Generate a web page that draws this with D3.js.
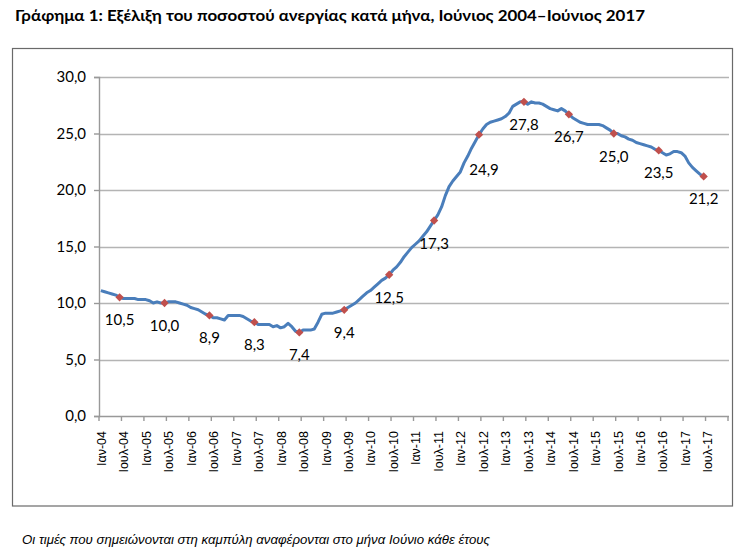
<!DOCTYPE html>
<html><head><meta charset="utf-8">
<script src="https://cdn.jsdelivr.net/npm/d3@7"></script>
<style>body{margin:0;background:#fff}svg{display:block}</style>
</head><body><svg id="c" width="751" height="549"></svg>
<script>
// ---- DATA ----
const title = "Γράφημα 1: Εξέλιξη του ποσοστού ανεργίας κατά μήνα, Ιούνιος 2004–Ιούνιος 2017";
const footnote = "Οι τιμές που σημειώνονται στη καμπύλη αναφέρονται στο μήνα Ιούνιο κάθε έτους";
const startYear = 2004;
const categoryCount = 168; // Jan 2004 .. Dec 2017 (monthly categories)
const xTickLabels = ["Ιαν-04","Ιουλ-04","Ιαν-05","Ιουλ-05","Ιαν-06","Ιουλ-06","Ιαν-07","Ιουλ-07",
  "Ιαν-08","Ιουλ-08","Ιαν-09","Ιουλ-09","Ιαν-10","Ιουλ-10","Ιαν-11","Ιουλ-11","Ιαν-12","Ιουλ-12",
  "Ιαν-13","Ιουλ-13","Ιαν-14","Ιουλ-14","Ιαν-15","Ιουλ-15","Ιαν-16","Ιουλ-16","Ιαν-17","Ιουλ-17"];
const yTicks = [0, 5, 10, 15, 20, 25, 30];
// monthly unemployment rate (%), Jan 2004 .. Jun 2017
const rate2004 = [11.1,11.0,10.9,10.8,10.7,10.5,10.4,10.4,10.4,10.4,10.3,10.3];
const rate2005 = [10.3,10.2,10.0,10.1,10.0,10.0,10.1,10.1,10.1,10.0,9.9,9.8];
const rate2006 = [9.6,9.5,9.4,9.2,9.0,8.9,8.7,8.7,8.6,8.5,8.9,8.9];
const rate2007 = [8.9,8.9,8.8,8.6,8.4,8.3,8.1,8.1,8.1,8.1,7.9,8.0];
const rate2008 = [7.8,7.9,8.2,7.9,7.5,7.4,7.6,7.6,7.6,7.7,8.3,9.0];
const rate2009 = [9.1,9.1,9.1,9.2,9.3,9.4,9.6,9.8,10.0,10.3,10.6,10.9];
const rate2010 = [11.1,11.4,11.7,12.0,12.2,12.5,12.9,13.2,13.6,14.1,14.5,14.9];
const rate2011 = [15.2,15.5,15.9,16.3,16.8,17.3,17.8,18.5,19.5,20.3,20.8,21.2];
const rate2012 = [21.6,22.4,23.0,23.7,24.3,24.9,25.4,25.8,26.0,26.1,26.2,26.3];
const rate2013 = [26.5,26.8,27.4,27.6,27.8,27.8,27.6,27.8,27.7,27.7,27.6,27.4];
const rate2014 = [27.2,27.1,27.0,27.2,27.0,26.7,26.4,26.2,26.0,25.9,25.8,25.8];
const rate2015 = [25.8,25.8,25.7,25.5,25.3,25.0,25.0,24.8,24.7,24.5,24.4,24.2];
const rate2016 = [24.1,24.0,23.9,23.8,23.6,23.5,23.3,23.1,23.2,23.4,23.4,23.3];
const rate2017 = [23.0,22.4,22.0,21.7,21.4,21.2];
const rates = [].concat(rate2004,rate2005,rate2006,rate2007,rate2008,rate2009,rate2010,
  rate2011,rate2012,rate2013,rate2014,rate2015,rate2016,rate2017);
const markedMonth = 5; // June

// ---- CHART ----
const svg = d3.select("#c");
const fmt = v => d3.format(".1f")(v).replace(".", ",");
const plot = {left: 99, right: 728, top: 77, bottom: 416};

const x = d3.scaleBand().domain(d3.range(categoryCount)).range([plot.left, plot.right]).paddingInner(0).paddingOuter(0);
const y = d3.scaleLinear().domain([0, 30]).range([plot.bottom, plot.top]);

// outer frame
svg.append("rect").attr("x", 12.5).attr("y", 48.5).attr("width", 720).attr("height", 457.5)
  .attr("fill", "none").attr("stroke", "#6a6a6a").attr("stroke-width", 1.2);

// title
svg.append("text").attr("x", 15).attr("y", 21).text(title)
  .attr("font-family", "Lato, 'Open Sans', sans-serif").attr("font-weight", "bold")
  .attr("font-size", 15.5).attr("fill", "#000")
  .attr("textLength", 630).attr("lengthAdjust", "spacingAndGlyphs");

// gridlines
svg.append("g").selectAll("line").data(yTicks.filter(d => d > 0)).join("line")
  .attr("x1", plot.left).attr("x2", plot.right + 1)
  .attr("y1", d => Math.round(y(d)) + 0.5).attr("y2", d => Math.round(y(d)) + 0.5)
  .attr("stroke", "#b4b4b4").attr("stroke-width", 1.6);

// y axis
const yAxis = d3.axisLeft(y).tickValues(yTicks).tickFormat(fmt).tickSize(5).tickPadding(8);
const gy = svg.append("g").attr("transform", `translate(${plot.left},0)`).call(yAxis);
gy.select(".domain").attr("stroke", "#999").attr("stroke-width", 1.4);
gy.selectAll(".tick line").attr("stroke", "#999").attr("stroke-width", 1.4);
gy.selectAll(".tick text").attr("font-family", "Lato, 'Open Sans', sans-serif")
  .attr("font-size", 15).attr("fill", "#000");

// x axis baseline
svg.append("line").attr("x1", plot.left).attr("x2", plot.right + 1)
  .attr("y1", y(0) + 0.5).attr("y2", y(0) + 0.5).attr("stroke", "#999").attr("stroke-width", 1.4);
// x ticks at category boundaries every 6 months
const boundaries = d3.range(0, categoryCount + 1, 6);
svg.append("g").selectAll("line").data(boundaries).join("line")
  .attr("x1", d => d === categoryCount ? plot.right : x(d))
  .attr("x2", d => d === categoryCount ? plot.right : x(d))
  .attr("y1", y(0)).attr("y2", y(0) + 5).attr("stroke", "#999").attr("stroke-width", 1.4);
// x labels
svg.append("g").selectAll("text").data(xTickLabels).join("text")
  .attr("transform", (d, i) => `translate(${x(i * 6) + x.bandwidth() / 2 + 1},431) rotate(-90)`)
  .attr("text-anchor", "end").attr("dominant-baseline", "central")
  .attr("font-family", "'Liberation Sans', Arial, sans-serif").attr("font-size", 12.5)
  .attr("fill", "#000").text(d => d);

// line
const pts = rates.map((v, i) => ({i, v}));
const line = d3.line().x(d => x(d.i) + x.bandwidth() / 2).y(d => y(d.v));
svg.append("path").datum(pts).attr("d", line).attr("fill", "none")
  .attr("stroke", "#4a7ebb").attr("stroke-width", 3).attr("stroke-linejoin", "round");

// June markers
const june = pts.filter(d => d.i % 12 === markedMonth);
svg.append("g").selectAll("path").data(june).join("path")
  .attr("d", d3.symbol().type(d3.symbolDiamond2).size(44))
  .attr("transform", d => `translate(${x(d.i) + x.bandwidth() / 2},${y(d.v)})`)
  .attr("fill", "#c0504d");
// labels (Excel "below" position; 2012 label nudged further down as in original)
svg.append("g").selectAll("text").data(june).join("text")
  .attr("x", d => x(d.i) + x.bandwidth() / 2 + (d.i === 101 ? 5 : 0))
  .attr("y", d => y(d.v) + (d.i === 101 ? 34 : 22))
  .attr("text-anchor", "middle").attr("dominant-baseline", "central")
  .attr("font-family", "Lato, 'Open Sans', sans-serif").attr("font-size", 15)
  .attr("fill", "#000").text(d => fmt(d.v));

// footnote
svg.append("text").attr("x", 22).attr("y", 544).text(footnote)
  .attr("font-family", "'Liberation Sans Narrow', 'Liberation Sans', Arial, sans-serif")
  .attr("font-style", "italic").attr("font-size", 12).attr("fill", "#000")
  .attr("textLength", 468).attr("lengthAdjust", "spacingAndGlyphs");
</script></body></html>
